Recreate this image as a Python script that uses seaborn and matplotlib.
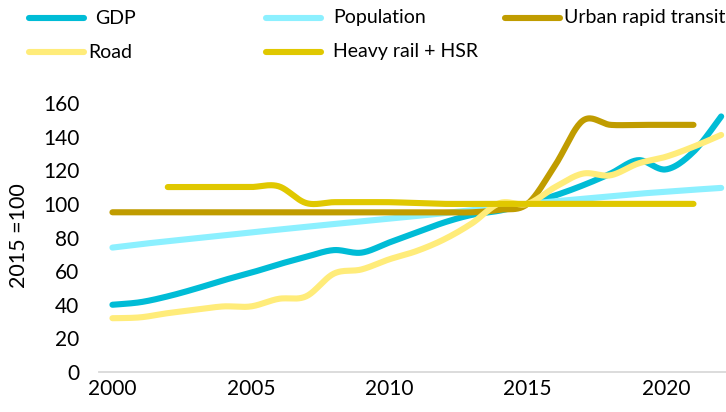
import numpy as np
import pandas as pd
import matplotlib
matplotlib.use("Agg")
import matplotlib.pyplot as plt
from matplotlib.lines import Line2D
import seaborn as sns

# ---------------- data ----------------
years = list(range(2000, 2023))
gdp = [40, 41.5, 45, 49.5, 54.5, 59, 64, 68.5, 72.5, 71, 77, 83, 89, 93.5, 96,
       100, 105, 111, 118, 126, 120.5, 131, 152]
population = [74, 76, 77.8, 79.5, 81.2, 83, 84.7, 86.4, 88, 89.6, 91.2, 92.8, 94.5, 96.2, 98,
              100, 101.5, 103, 104.5, 106, 107.2, 108.4, 109.5]
urban_rapid_transit = [95, 95, 95, 95, 95, 95, 95, 95, 95, 95, 95, 95, 95, 95, 96.5,
                       100, 123, 149.5, 147, 147, 147, 147, None]
road = [32, 32.5, 35, 37, 39, 39, 43.5, 45, 58.5, 61, 67, 72, 79, 88.5, 100.5,
        100, 110, 118, 117, 124, 128, 134, 141]
heavy_rail_hsr = [None, None, 110, 110, 110, 110, 110.5, 100.5, 101, 101, 101, 100.5, 100, 100, 100,
                  100, 100, 100, 100, 100, 100, 100, None]

series_names = ["GDP", "Population", "Urban rapid transit", "Road", "Heavy rail + HSR"]
series_values = [gdp, population, urban_rapid_transit, road, heavy_rail_hsr]
colors = ["#00BCD6", "#8CF0FF", "#C09C00", "#FFEC7A", "#E0C800"]
xtick_labels = ["2000", "2005", "2010", "2015", "2020"]


def smooth(xs, ys, n=24):
    """Excel-style smoothed line: cubic Bezier through every point."""
    xs = np.asarray(xs, float)
    ys = np.asarray(ys, float)
    px = np.concatenate([[xs[0]], xs, [xs[-1]]])
    py = np.concatenate([[ys[0]], ys, [ys[-1]]])
    outx, outy = [], []
    t = np.linspace(0, 1, n)
    for i in range(1, len(px) - 2):
        p0 = np.array([px[i], py[i]])
        p3 = np.array([px[i + 1], py[i + 1]])
        c1 = p0 + (p3 - np.array([px[i - 1], py[i - 1]])) / 6.0
        c2 = p3 - (np.array([px[i + 2], py[i + 2]]) - p0) / 6.0
        b = ((1 - t) ** 3)[:, None] * p0 + (3 * (1 - t) ** 2 * t)[:, None] * c1 \
            + (3 * (1 - t) * t ** 2)[:, None] * c2 + (t ** 3)[:, None] * p3
        if i > 1:
            b = b[1:]
        outx.extend(b[:, 0])
        outy.extend(b[:, 1])
    return outx, outy


rows = []
for name, vals in zip(series_names, series_values):
    xs = [y for y, v in zip(years, vals) if v is not None]
    vs = [v for v in vals if v is not None]
    sx, sy = smooth(xs, vs)
    for a, b in zip(sx, sy):
        rows.append({"series": name, "x": a, "y": b})
df = pd.DataFrame(rows)

# ---------------- figure ----------------
sns.set_theme(style="white")
plt.rcParams["font.family"] = ["Lato", "DejaVu Sans"]

W, H = 726, 412
fig = plt.figure(figsize=(W / 100, H / 100), dpi=100)
ax = fig.add_axes([98.6 / W, 1 - 372 / H, (735 - 98.6) / W, (372 - 103) / H])

sns.lineplot(data=df, x="x", y="y", hue="series", hue_order=series_names,
             palette=dict(zip(series_names, colors)), sort=False, estimator=None,
             units="series", linewidth=4.4, ax=ax, legend=False)
for ln in ax.get_lines():
    ln.set_solid_capstyle("round")
    ln.set_solid_joinstyle("round")
    ln.set_clip_on(False)

ax.set_xlim(1999.5, 2022.5)
ax.set_ylim(0, 160)
ax.set_yticks(range(0, 161, 20))
ax.set_xticks([int(s) for s in xtick_labels])
ax.set_xticklabels(xtick_labels)
ax.tick_params(axis="both", length=0, labelsize=15, colors="black")
ax.tick_params(axis="y", pad=14)
ax.tick_params(axis="x", pad=5)
ax.set_xlabel("")
ax.set_ylabel("2015 =100", fontsize=15.5, color="black")
ax.yaxis.set_label_coords(-(98.6 - 29) / (735 - 98.6), (372 - 236) / (372 - 103))
for s in ["top", "right", "left"]:
    ax.spines[s].set_visible(False)
ax.spines["bottom"].set_color("#D9D9D9")
ax.spines["bottom"].set_linewidth(1.3)
ax.grid(False)

# ---------------- legend ----------------
legend_layout = [  # (handle x0, handle x1, text x, row y) in pixels
    (29, 84, 95, 18),
    (266, 321, 333, 18),
    (505, 560, 564, 18),
    (29, 84, 88, 52),
    (266, 321, 333, 52),
]
for name, col, (x0, x1, tx, ry) in zip(series_names, colors, legend_layout):
    fy = 1 - ry / H
    fig.add_artist(Line2D([x0 / W, x1 / W], [fy, fy], transform=fig.transFigure,
                          color=col, linewidth=4.4, solid_capstyle="round"))
    fig.text(tx / W, fy, name, fontsize=14, va="center", ha="left", color="black")

fig.savefig("out.png", dpi=100)
